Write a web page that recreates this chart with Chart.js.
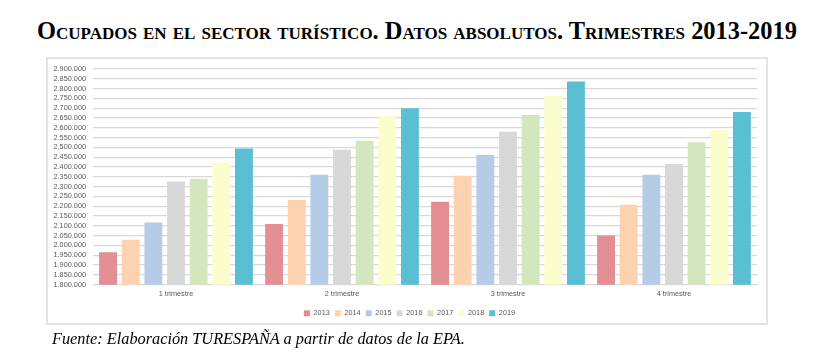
<!DOCTYPE html>
<html><head><meta charset="utf-8">
<script src="https://cdn.jsdelivr.net/npm/chart.js@4"></script>
<style>
html,body{margin:0;padding:0;background:#fff;width:825px;height:363px;overflow:hidden}
.serif{font-family:"Liberation Serif","Times New Roman",Times,"DejaVu Serif",serif;color:#000;white-space:nowrap;position:absolute}
#title{left:37px;top:20px;font-weight:bold;font-variant:small-caps;font-size:20px;line-height:1}
#box{position:absolute;left:46px;top:57px;width:722px;height:268px;box-sizing:border-box;border:2px solid #e3e3e3}
#wrap{position:absolute;left:0;top:0;width:825px;height:363px}
#cap{left:52px;top:331px;font-style:italic;font-size:15px;line-height:1}
</style></head>
<body>
<div id="title" class="serif">Ocupados en el sector turístico. Datos absolutos. Trimestres 2013-2019</div>
<div id="box"></div>
<div id="wrap"><canvas id="c" width="825" height="363"></canvas></div>
<div id="cap" class="serif">Fuente: Elaboración TURESPAÑA a partir de datos de la EPA.</div>
<script>
const categories = ["1 trimestre", "2 trimestre", "3 trimestre", "4 trimestre"];
const years = ["2013", "2014", "2015", "2016", "2017", "2018", "2019"];
const v2013 = [1965000, 2109000, 2223000, 2051000];
const v2014 = [2029000, 2232000, 2356000, 2208000];
const v2015 = [2117000, 2361000, 2461000, 2361000];
const v2016 = [2326000, 2488000, 2580000, 2415000];
const v2017 = [2340000, 2534000, 2666000, 2526000];
const v2018 = [2425000, 2662000, 2763000, 2589000];
const v2019 = [2495000, 2700000, 2836000, 2681000];
const yMin = 1800000, yMax = 2900000, yStep = 50000;

const colors = ["#E28E92", "#FDD2B1", "#B6CBE6", "#D8D8D8", "#D4E6BD", "#FCFDCC", "#5ABFD3"];
const series = [v2013, v2014, v2015, v2016, v2017, v2018, v2019];

// size text so its width matches, then place its baseline
function fitText(id, targetWidth, baseline) {
  const el = document.getElementById(id);
  const fs0 = parseFloat(getComputedStyle(el).fontSize);
  const w = el.getBoundingClientRect().width;
  const fs = fs0 * targetWidth / w;
  el.style.fontSize = fs + "px";
  el.style.top = (baseline - 0.8375 * fs) + "px";
}
fitText("title", 763, 39.5);
fitText("cap", 413, 344.5);

const fmt = v => String(v).replace(/\B(?=(\d{3})+(?!\d))/g, ".");
const tickFont = {family: "'Liberation Sans', Arial, sans-serif", size: 7.3};

const legendShift = {
  id: "legendShift",
  afterUpdate(chart) {
    const lg = chart.legend;
    if (!lg) return;
    lg.left += 12; lg.right += 12;
    lg.adjustHitBoxes();
  }
};

new Chart(document.getElementById("c"), {
  type: "bar",
  data: {
    labels: categories,
    datasets: years.map((y, i) => ({
      label: y,
      data: series[i],
      backgroundColor: colors[i],
      borderWidth: 0,
      categoryPercentage: 0.955,
      barPercentage: 0.79
    }))
  },
  plugins: [legendShift],
  options: {
    responsive: false,
    animation: false,
    layout: {padding: {left: 38, right: 68, top: 69, bottom: 36}},
    plugins: {
      legend: {
        position: "bottom",
        labels: {boxWidth: 6, boxHeight: 6, padding: 5, color: "#595959", font: tickFont}
      },
      tooltip: {enabled: false}
    },
    scales: {
      x: {
        grid: {display: false, drawTicks: false},
        border: {color: "#d9d9d9", width: 1},
        ticks: {color: "#595959", font: tickFont, padding: 5},
        afterFit: s => { s.height = 20; }
      },
      y: {
        min: yMin, max: yMax,
        grid: {color: "#d9d9d9", lineWidth: 1.2, drawTicks: false},
        border: {display: false},
        ticks: {stepSize: yStep, autoSkip: false, color: "#595959", font: tickFont, padding: 7,
                callback: v => fmt(v)},
        afterFit: s => { s.width = 55; }
      }
    }
  }
});
</script>
</body></html>
